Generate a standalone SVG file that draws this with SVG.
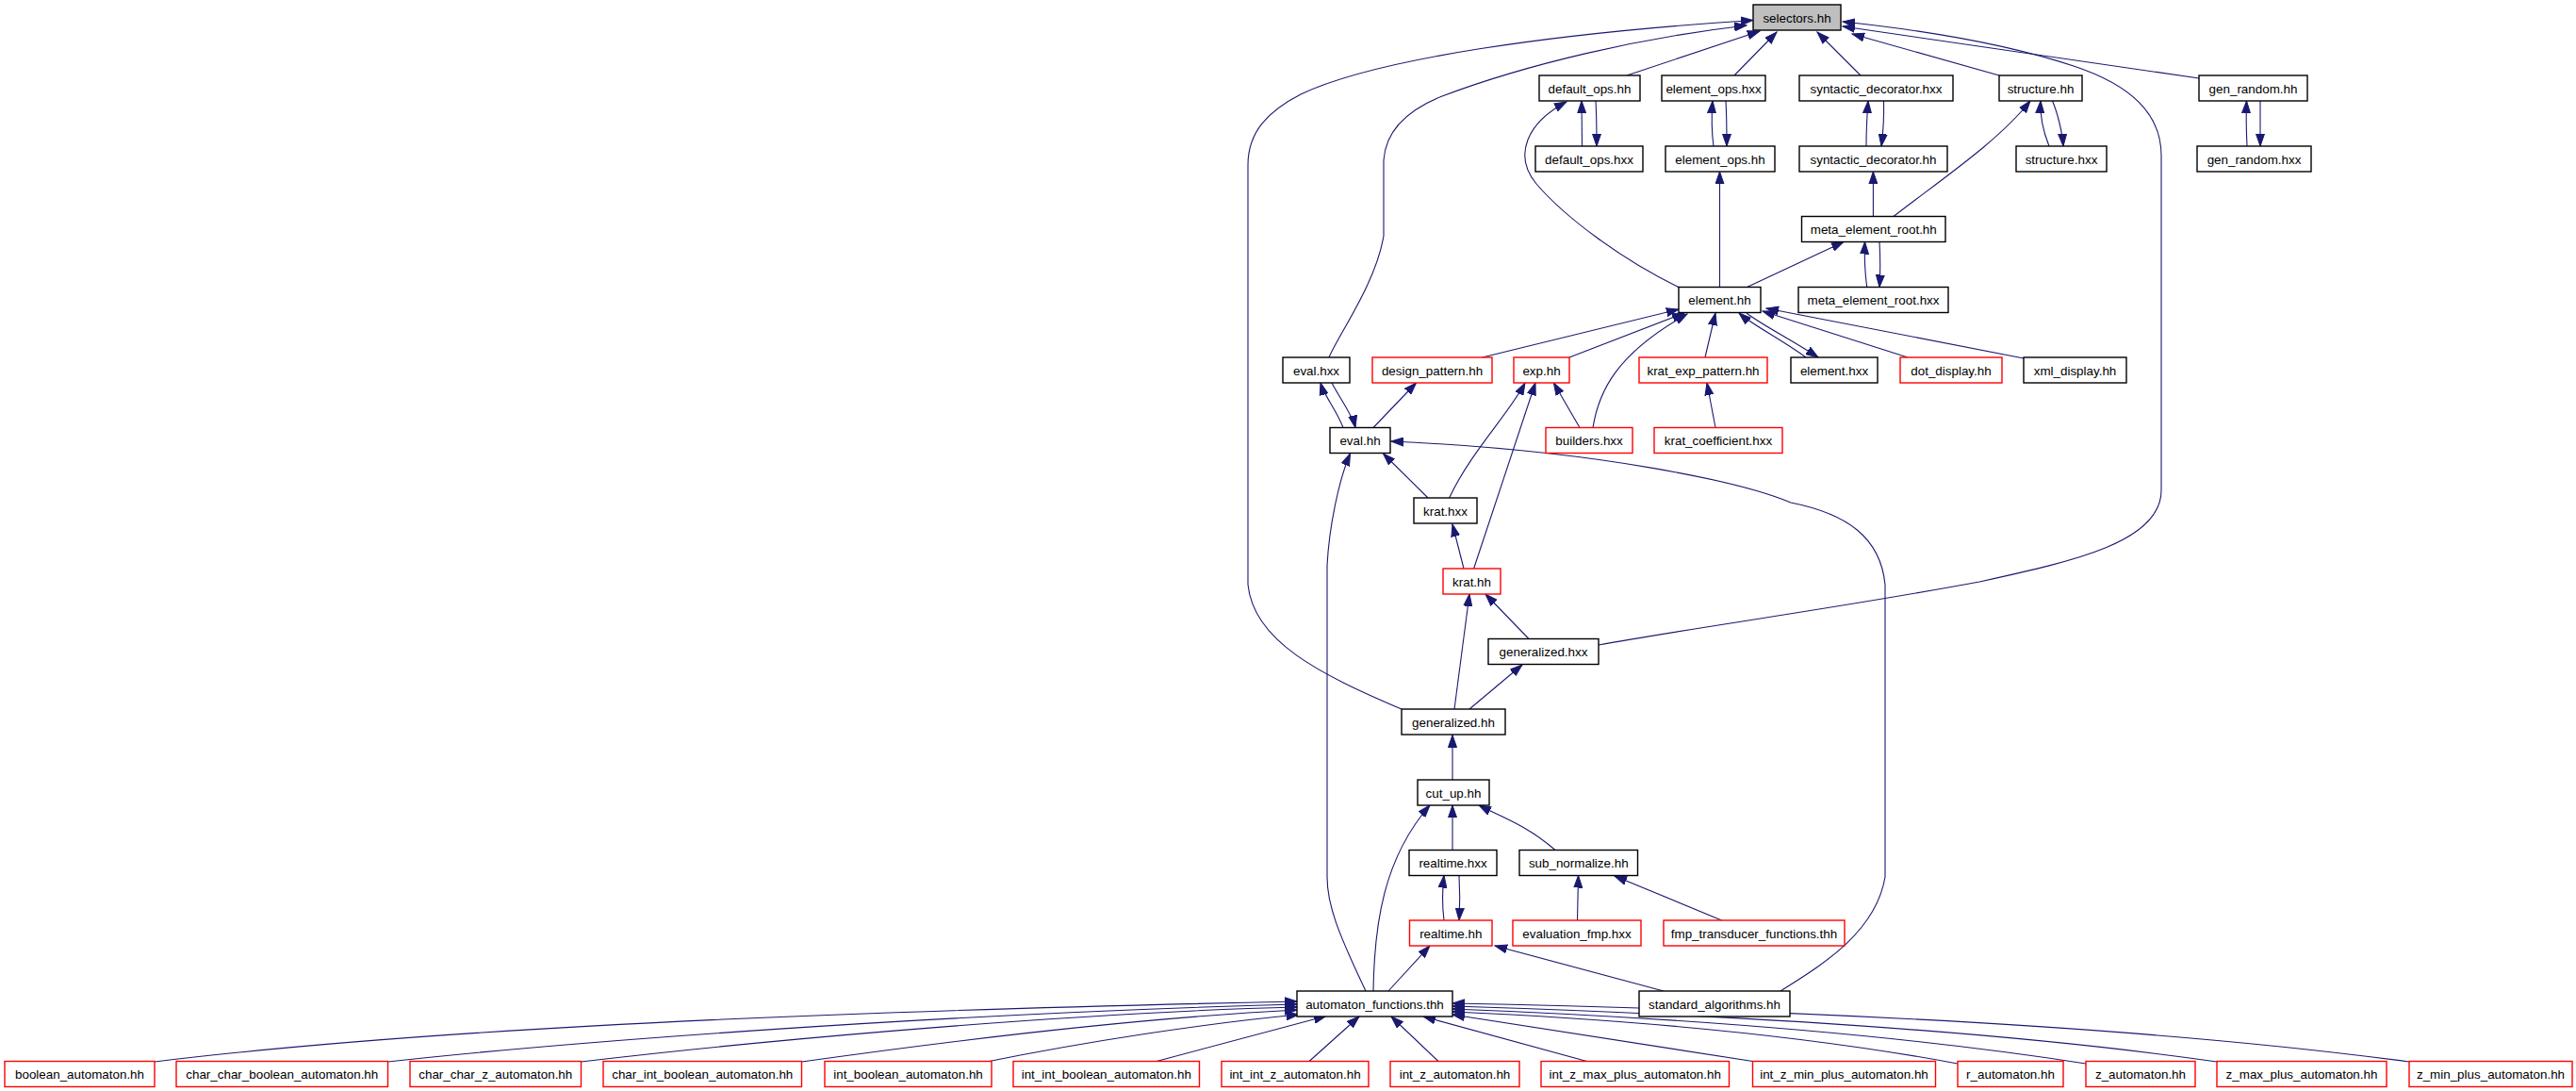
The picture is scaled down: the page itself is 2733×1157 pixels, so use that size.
<svg xmlns="http://www.w3.org/2000/svg" width="2733" height="1157" viewBox="0 0 2733 1157">
<style>
.n rect{fill:#fff;stroke:#000;stroke-width:1.4}
.r rect{stroke:#f00}
.g rect{fill:#bfbfbf}
text{font-family:"Liberation Sans",Arial,sans-serif;font-size:13.4px;text-anchor:middle;fill:#000}
#edges path{fill:none;stroke:#191970;stroke-width:1.1;marker-end:url(#a)}
</style>
<defs>
<marker id="a" viewBox="0 0 14 10" markerWidth="14" markerHeight="10" refX="13" refY="5" orient="auto" markerUnits="userSpaceOnUse">
<path d="M0,0.5 L13,5 L0,9.5 z" fill="#191970" stroke="#191970" stroke-width="1"/>
</marker>
</defs>
<rect width="2733" height="1157" fill="#fff"/>
<g id="edges">
<path d="M1487,752 C1400,715 1330,680 1324,620 L1324,175 C1324,140 1345,118 1380,100 C1460,62 1650,35 1860,21.5"/>
<path d="M1410,379 C1420,355 1460,300 1468,250 L1468,170 C1470,140 1490,118 1530,102 C1620,68 1740,40 1853,27"/>
<path d="M1726,80 L1867,33"/>
<path d="M1840,80 L1885,34"/>
<path d="M1974,80 L1928,34"/>
<path d="M2121,80 L1965,36"/>
<path d="M2333,83 L1955,28"/>
<path d="M1696,684 C1800,665 1950,645 2100,617 C2200,595 2293,575 2293,520 L2293,165 C2293,120 2260,90 2200,70 C2130,47 2050,33 1955,23"/>
<path d="M1678.5,155 L1678,107"/>
<path d="M1693,107 C1694,125 1694,140 1694,155"/>
<path d="M1818,155 C1816,140 1816,120 1817,107"/>
<path d="M1831,107 C1832,125 1832,140 1832,155"/>
<path d="M1980,155 C1980,135 1981,120 1982,107"/>
<path d="M1998.5,107 C1999,125 1998,140 1996,155"/>
<path d="M2174,155 C2168,140 2164,125 2165,107"/>
<path d="M2177.5,107 C2183,120 2188,140 2189,155"/>
<path d="M2384,155 C2383,135 2383,120 2383.5,107"/>
<path d="M2398,107 L2398,155"/>
<path d="M2009,229.5 C2060,190 2120,150 2154,107"/>
<path d="M1987.4,229.5 L1987.4,182"/>
<path d="M1781,304.5 C1720,275 1660,230 1630,195 C1605,165 1620,130 1662,108"/>
<path d="M1824.5,304.5 L1824.5,182"/>
<path d="M1853.5,304.5 L1956,256.5"/>
<path d="M1980.7,304.5 C1978,285 1978,270 1978.5,256.5"/>
<path d="M1994,256.5 C1995,275 1995,290 1994,304.5"/>
<path d="M1572.7,379 L1781,328"/>
<path d="M1665,379 L1787,332"/>
<path d="M1690,453.5 C1696,415 1715,375 1790,333"/>
<path d="M1809,379 L1820,332"/>
<path d="M1916,379 C1890,360 1860,345 1845,332"/>
<path d="M1853,332 C1870,345 1900,360 1929,379"/>
<path d="M2024,379 L1870,330"/>
<path d="M2147,380 L1874,327"/>
<path d="M1425,453.5 C1418,435 1405,420 1401,406"/>
<path d="M1413,406 C1420,420 1435,440 1438,453.5"/>
<path d="M1457,453.5 L1502.5,406"/>
<path d="M1537.6,528 C1560,480 1600,440 1618,406"/>
<path d="M1563.6,603 L1629,406"/>
<path d="M1676,453.5 L1648.4,406"/>
<path d="M1820,453.5 L1811,406"/>
<path d="M1515,528 L1467.5,481"/>
<path d="M1449,1051 C1420,990 1408,960 1408,930 L1408,600 C1410,560 1420,510 1432.5,481"/>
<path d="M1889,1051 C1930,1025 1990,990 2000,930 L2000,620 C1995,570 1960,545 1900,533 C1850,512 1700,478 1476,468"/>
<path d="M1553,603 L1541,556"/>
<path d="M1622,677.5 L1576,630"/>
<path d="M1543,752 L1559,630"/>
<path d="M1559,752 L1615,705"/>
<path d="M1541,827 L1541,779.5"/>
<path d="M1457,1051 C1458,980 1468,910 1517,854"/>
<path d="M1541,901.5 L1541,854"/>
<path d="M1650,901.5 C1620,875 1590,865 1569,854"/>
<path d="M1532,976 C1530,960 1530,945 1532,928.5"/>
<path d="M1548,928.5 C1549,945 1549,960 1548,976"/>
<path d="M1673.5,976 L1674.5,928.5"/>
<path d="M1826.6,976 L1713,929"/>
<path d="M1473,1051 L1517,1003"/>
<path d="M1765,1051 L1586,1003"/>
<path d="M164,1126 C500,1085 1000,1070 1376,1062"/>
<path d="M411.5,1126 C600,1105 1000,1075 1376,1065"/>
<path d="M616.5,1126 C750,1110 1100,1075 1376,1068"/>
<path d="M850.6,1126 C1000,1105 1200,1080 1376,1071"/>
<path d="M1047,1126 C1150,1105 1280,1085 1378,1076"/>
<path d="M1227,1125.5 L1407,1077.5"/>
<path d="M1389,1125.5 L1442,1078"/>
<path d="M1526,1125.5 L1476,1078"/>
<path d="M1683.5,1125.5 L1510,1078"/>
<path d="M1859.5,1125.5 L1541,1076"/>
<path d="M2077,1128 C1900,1095 1700,1080 1541,1073"/>
<path d="M2213,1128 C2000,1095 1750,1078 1541,1070"/>
<path d="M2352,1126 C2100,1090 1800,1075 1541,1067"/>
<path d="M2556,1126 C2250,1085 1850,1070 1541,1064"/>
</g>
<g id="n_selectors" class="n g"><rect x="1860" y="5" width="93" height="27"/><text x="1906.5" y="23.5">selectors.hh</text></g>
<g id="n_default_ops_hh" class="n"><rect x="1633" y="80" width="107" height="27"/><text x="1686.5" y="98.5">default_ops.hh</text></g>
<g id="n_element_ops_hxx" class="n"><rect x="1763" y="80" width="110" height="27"/><text x="1818" y="98.5">element_ops.hxx</text></g>
<g id="n_syntactic_decorator_hxx" class="n"><rect x="1909" y="80" width="163" height="27"/><text x="1990.5" y="98.5">syntactic_decorator.hxx</text></g>
<g id="n_structure_hh" class="n"><rect x="2121" y="80" width="88" height="27"/><text x="2165" y="98.5">structure.hh</text></g>
<g id="n_gen_random_hh" class="n"><rect x="2333" y="80" width="115" height="27"/><text x="2390.5" y="98.5">gen_random.hh</text></g>
<g id="n_default_ops_hxx" class="n"><rect x="1629" y="155" width="114" height="27"/><text x="1686" y="173.5">default_ops.hxx</text></g>
<g id="n_element_ops_hh" class="n"><rect x="1767" y="155" width="116" height="27"/><text x="1825" y="173.5">element_ops.hh</text></g>
<g id="n_syntactic_decorator_hh" class="n"><rect x="1909" y="155" width="157" height="27"/><text x="1987.5" y="173.5">syntactic_decorator.hh</text></g>
<g id="n_structure_hxx" class="n"><rect x="2139" y="155" width="96" height="27"/><text x="2187" y="173.5">structure.hxx</text></g>
<g id="n_gen_random_hxx" class="n"><rect x="2331" y="155" width="121" height="27"/><text x="2391.5" y="173.5">gen_random.hxx</text></g>
<g id="n_meta_element_root_hh" class="n"><rect x="1911.5" y="229.5" width="152.5" height="27"/><text x="1987.75" y="248">meta_element_root.hh</text></g>
<g id="n_element_hh" class="n"><rect x="1781" y="304.5" width="87" height="27"/><text x="1824.5" y="323">element.hh</text></g>
<g id="n_meta_element_root_hxx" class="n"><rect x="1908" y="304.5" width="159" height="27"/><text x="1987.5" y="323">meta_element_root.hxx</text></g>
<g id="n_eval_hxx" class="n"><rect x="1361" y="379" width="71" height="27"/><text x="1396.5" y="397.5">eval.hxx</text></g>
<g id="n_design_pattern_hh" class="n r"><rect x="1456" y="379" width="127" height="27"/><text x="1519.5" y="397.5">design_pattern.hh</text></g>
<g id="n_exp_hh" class="n r"><rect x="1606" y="379" width="59" height="27"/><text x="1635.5" y="397.5">exp.hh</text></g>
<g id="n_krat_exp_pattern_hh" class="n r"><rect x="1739" y="379" width="136" height="27"/><text x="1807" y="397.5">krat_exp_pattern.hh</text></g>
<g id="n_element_hxx" class="n"><rect x="1900" y="379" width="92" height="27"/><text x="1946" y="397.5">element.hxx</text></g>
<g id="n_dot_display_hh" class="n r"><rect x="2016" y="379" width="108" height="27"/><text x="2070" y="397.5">dot_display.hh</text></g>
<g id="n_xml_display_hh" class="n"><rect x="2147" y="379" width="109" height="27"/><text x="2201.5" y="397.5">xml_display.hh</text></g>
<g id="n_eval_hh" class="n"><rect x="1411" y="453.5" width="64" height="27"/><text x="1443" y="472">eval.hh</text></g>
<g id="n_builders_hxx" class="n r"><rect x="1640" y="453.5" width="92" height="27"/><text x="1686" y="472">builders.hxx</text></g>
<g id="n_krat_coefficient_hxx" class="n r"><rect x="1755" y="453.5" width="136" height="27"/><text x="1823" y="472">krat_coefficient.hxx</text></g>
<g id="n_krat_hxx" class="n"><rect x="1500" y="528" width="67" height="27"/><text x="1533.5" y="546.5">krat.hxx</text></g>
<g id="n_krat_hh" class="n r"><rect x="1531" y="603" width="61" height="27"/><text x="1561.5" y="621.5">krat.hh</text></g>
<g id="n_generalized_hxx" class="n"><rect x="1579" y="677.5" width="117" height="27"/><text x="1637.5" y="696">generalized.hxx</text></g>
<g id="n_generalized_hh" class="n"><rect x="1487" y="752" width="110" height="27"/><text x="1542" y="770.5">generalized.hh</text></g>
<g id="n_cut_up_hh" class="n"><rect x="1504" y="827" width="76" height="27"/><text x="1542" y="845.5">cut_up.hh</text></g>
<g id="n_realtime_hxx" class="n"><rect x="1495" y="901.5" width="93" height="27"/><text x="1541.5" y="920">realtime.hxx</text></g>
<g id="n_sub_normalize_hh" class="n"><rect x="1612" y="901.5" width="125.5" height="27"/><text x="1674.75" y="920">sub_normalize.hh</text></g>
<g id="n_realtime_hh" class="n r"><rect x="1495.5" y="976" width="87.5" height="27"/><text x="1539.25" y="994.5">realtime.hh</text></g>
<g id="n_evaluation_fmp_hxx" class="n r"><rect x="1605" y="976" width="136" height="27"/><text x="1673" y="994.5">evaluation_fmp.hxx</text></g>
<g id="n_fmp_transducer_functions_thh" class="n r"><rect x="1765" y="976" width="192" height="27"/><text x="1861" y="994.5">fmp_transducer_functions.thh</text></g>
<g id="n_automaton_functions_thh" class="n"><rect x="1376" y="1051" width="165" height="27"/><text x="1458.5" y="1069.5">automaton_functions.thh</text></g>
<g id="n_standard_algorithms_hh" class="n"><rect x="1739" y="1051" width="160" height="27"/><text x="1819" y="1069.5">standard_algorithms.hh</text></g>
<g id="n_boolean_automaton_hh" class="n r"><rect x="5" y="1125.5" width="159" height="27"/><text x="84.5" y="1144">boolean_automaton.hh</text></g>
<g id="n_char_char_boolean_automaton_hh" class="n r"><rect x="187" y="1125.5" width="224.5" height="27"/><text x="299.25" y="1144">char_char_boolean_automaton.hh</text></g>
<g id="n_char_char_z_automaton_hh" class="n r"><rect x="435" y="1125.5" width="181.5" height="27"/><text x="525.75" y="1144">char_char_z_automaton.hh</text></g>
<g id="n_char_int_boolean_automaton_hh" class="n r"><rect x="640" y="1125.5" width="210.5" height="27"/><text x="745.25" y="1144">char_int_boolean_automaton.hh</text></g>
<g id="n_int_boolean_automaton_hh" class="n r"><rect x="875" y="1125.5" width="177" height="27"/><text x="963.5" y="1144">int_boolean_automaton.hh</text></g>
<g id="n_int_int_boolean_automaton_hh" class="n r"><rect x="1075" y="1125.5" width="197.5" height="27"/><text x="1173.75" y="1144">int_int_boolean_automaton.hh</text></g>
<g id="n_int_int_z_automaton_hh" class="n r"><rect x="1296" y="1125.5" width="156" height="27"/><text x="1374" y="1144">int_int_z_automaton.hh</text></g>
<g id="n_int_z_automaton_hh" class="n r"><rect x="1475" y="1125.5" width="137" height="27"/><text x="1543.5" y="1144">int_z_automaton.hh</text></g>
<g id="n_int_z_max_plus_automaton_hh" class="n r"><rect x="1635" y="1125.5" width="199.5" height="27"/><text x="1734.75" y="1144">int_z_max_plus_automaton.hh</text></g>
<g id="n_int_z_min_plus_automaton_hh" class="n r"><rect x="1859.5" y="1125.5" width="194" height="27"/><text x="1956.5" y="1144">int_z_min_plus_automaton.hh</text></g>
<g id="n_r_automaton_hh" class="n r"><rect x="2077" y="1125.5" width="112" height="27"/><text x="2133" y="1144">r_automaton.hh</text></g>
<g id="n_z_automaton_hh" class="n r"><rect x="2213" y="1125.5" width="116" height="27"/><text x="2271" y="1144">z_automaton.hh</text></g>
<g id="n_z_max_plus_automaton_hh" class="n r"><rect x="2352" y="1125.5" width="180" height="27"/><text x="2442" y="1144">z_max_plus_automaton.hh</text></g>
<g id="n_z_min_plus_automaton_hh" class="n r"><rect x="2556" y="1125.5" width="173" height="27"/><text x="2642.5" y="1144">z_min_plus_automaton.hh</text></g>
</svg>
